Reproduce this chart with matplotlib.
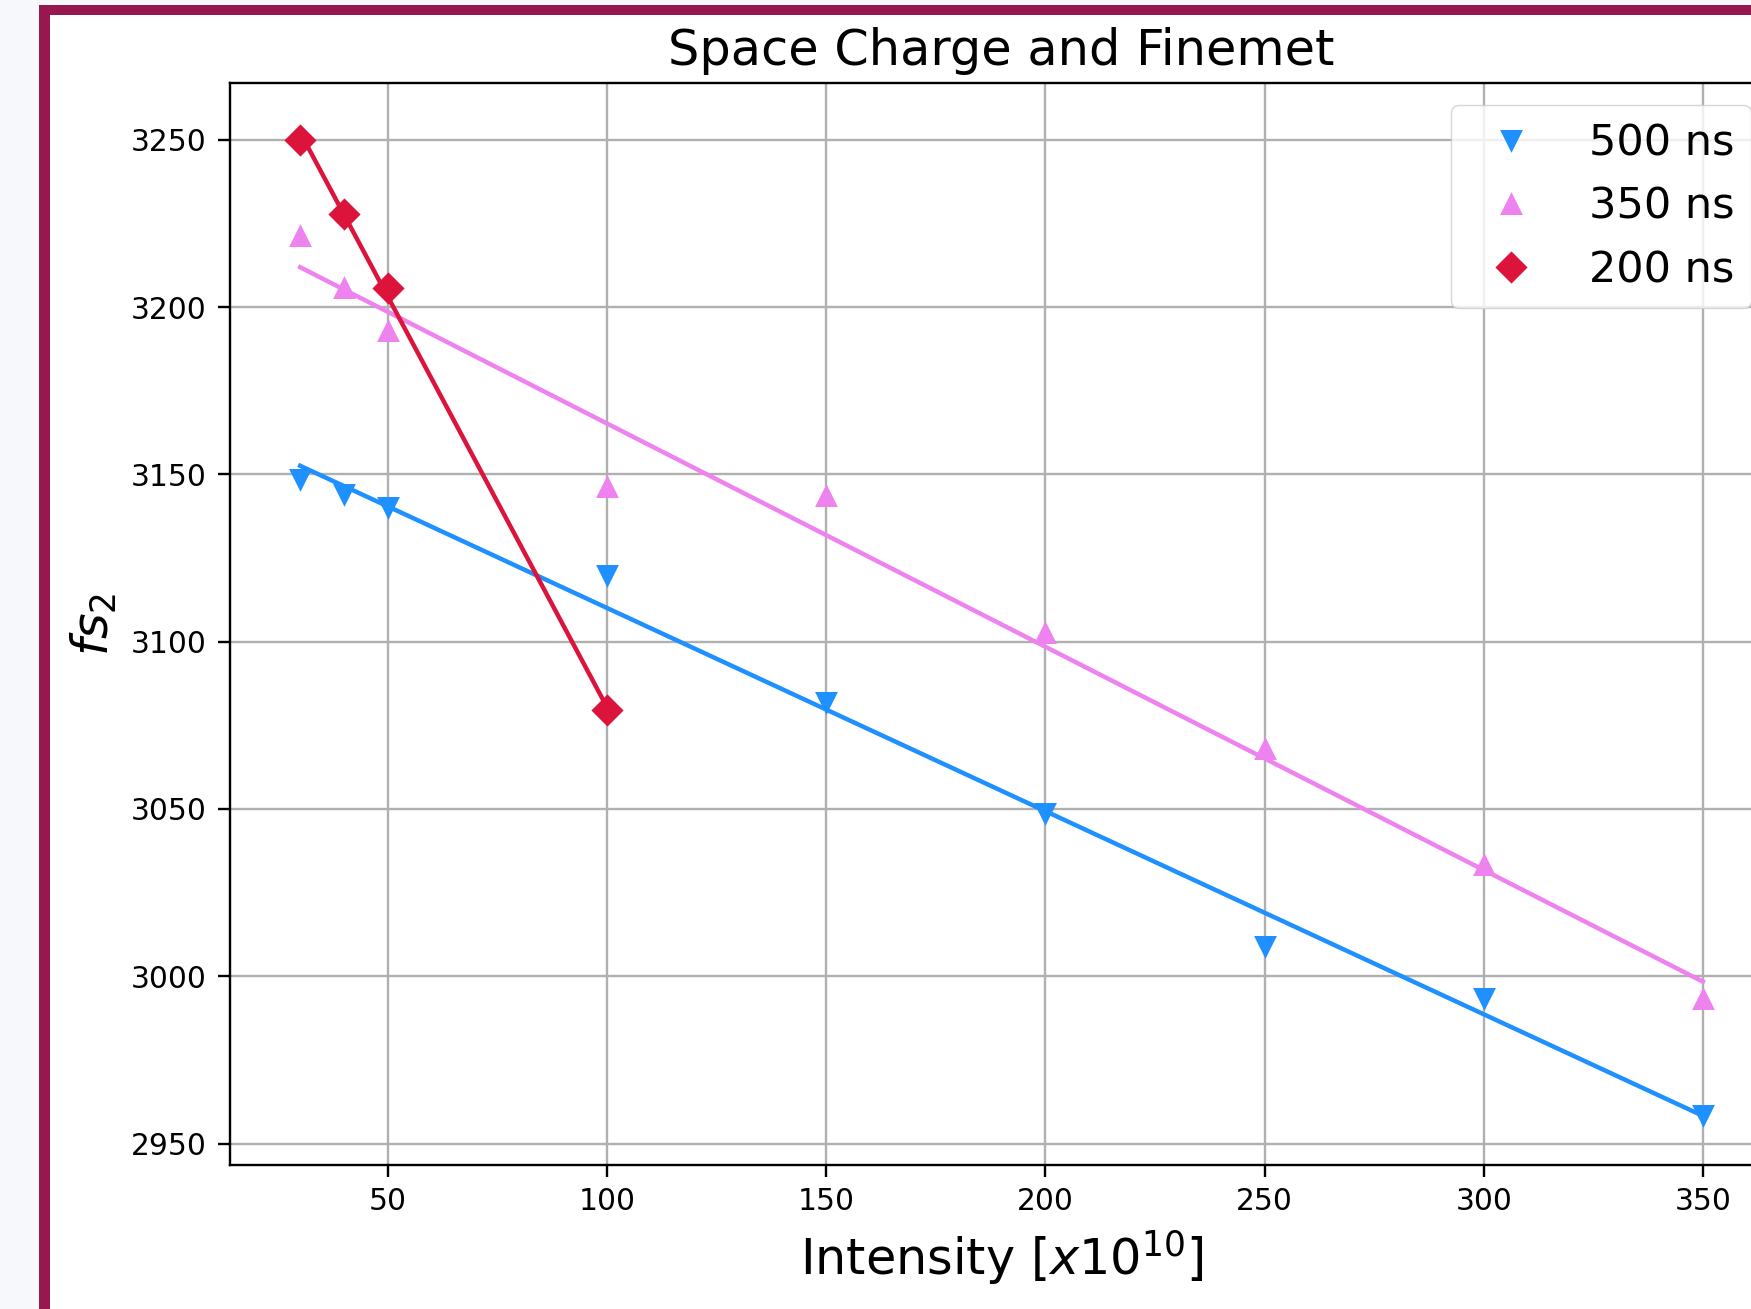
import matplotlib
matplotlib.use('Agg')
import matplotlib.pyplot as plt
from matplotlib.patches import Rectangle
import numpy as np

# Measured synchrotron frequency fs2 vs. beam intensity for three bunch lengths
intensity_500 = [30, 40, 50, 100, 150, 200, 250, 300, 350]
fs2_500 = [3148.6, 3144.2, 3140.2, 3119.8, 3081.9, 3048.8, 3009.0, 2993.6, 2958.4]

intensity_350 = [30, 40, 50, 100, 150, 200, 250, 300, 350]
fs2_350 = [3221.2, 3205.8, 3192.8, 3146.2, 3143.5, 3102.7, 3067.9, 3033.1, 2993.2]

intensity_200 = [30, 40, 50, 100]
fs2_200 = [3250.0, 3227.9, 3205.8, 3079.6]

labels = ['500 ns', '350 ns', '200 ns']
colors = ['dodgerblue', 'violet', 'crimson']
markers = ['v', '^', 'D']

# everything is drawn at ~2.14x the usual matplotlib sizes
S = 2.14
plt.rcParams.update({
    'font.size': 10 * S,
    'axes.linewidth': 0.8 * S,
    'grid.linewidth': 0.8 * S,
    'xtick.major.width': 0.8 * S,
    'ytick.major.width': 0.8 * S,
    'xtick.major.size': 8.6,
    'ytick.major.size': 8.6,
    'xtick.major.pad': 7.2,
    'ytick.major.pad': 8.4,
    'axes.titlepad': 6 * S,
    'axes.labelpad': 4 * S,
    'lines.linewidth': 1.5 * S,
    'lines.markeredgewidth': 1.0 * S,
})

fig = plt.figure(figsize=(17.51, 13.09), dpi=100, facecolor='#f6f8fc')
W, H = 1751, 1309

# cell frame behind the plot
fig.patches.append(Rectangle((39 / W, 0), 1, 1 - 4.5 / H, transform=fig.transFigure,
                             facecolor='#96184f', edgecolor='none', zorder=-10))
fig.patches.append(Rectangle((49.5 / W, 0), 1, 1 - 15 / H, transform=fig.transFigure,
                             facecolor='white', edgecolor='none', zorder=-9))

ax = fig.add_axes([230 / W, 1 - 1165 / H, (1773 - 230) / W, (1165 - 83.3) / H])

series = [(intensity_500, fs2_500), (intensity_350, fs2_350), (intensity_200, fs2_200)]
sizes = [6.2, 6.2, 6.6]
for (x, y), lab, c, m, ms in zip(series, labels, colors, markers, sizes):
    x = np.array(x)
    y = np.array(y)
    ax.plot(x, y, linestyle='none', marker=m, color=c, markersize=ms * S, label=lab)
    # linear fit through each series
    k, b = np.polyfit(x, y, 1)
    ax.plot(x, k * x + b, color=c)

ax.set_title('Space Charge and Finemet', fontsize=35.6)
ax.set_xlabel('Intensity [$x10^{10}$]', fontsize=35.5)
ax.set_ylabel('$fs_2$', fontsize=35.5)
ax.legend(loc='upper right', fontsize=31)
ax.grid(True)

fig.savefig('out.png', dpi=100, facecolor=fig.get_facecolor())
